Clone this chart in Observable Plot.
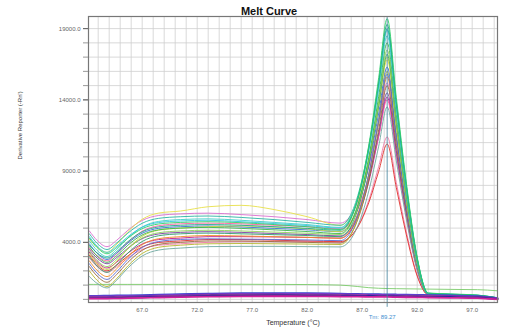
<!DOCTYPE html>
<html>
<head>
<meta charset="utf-8">
<script src="https://cdn.jsdelivr.net/npm/d3@7"></script>
<script src="https://cdn.jsdelivr.net/npm/@observablehq/plot@0.6"></script>
<style>
  body { margin: 0; background: #fff; font-family: "Liberation Sans", Arial, sans-serif; }
</style>
</head>
<body>
<div id="chart"></div>
<script>
// Temperature readings (°C) at which the derivative reporter was sampled
const temps = [62.2, 62.9, 63.8, 64.7, 65.7, 67.0, 68.5, 70.5, 73, 76, 79, 82, 85, 86.6, 87.6, 88.5, 89.27, 90.1, 91.0, 92.0, 93.0, 95.0, 97.5, 99.3];

// Amplified wells: -Rn' per temperature
const wellB7  = [2900, 2300, 1900, 2300, 2900, 3500, 3800, 3900, 4000, 4050, 4050, 4050, 4000, 5110, 6960, 9328, 11400, 8208, 4788, 1710, 330, 280, 220, 70];
const wellC3  = [3100, 2440, 2000, 2420, 3050, 3680, 3995, 4100, 4200, 4200, 4150, 4100, 4050, 5078, 6790, 8982, 10900, 7848, 4578, 1635, 320, 270, 210, 70];
const wellA5  = [3300, 2640, 2200, 2620, 3250, 3880, 4195, 4300, 4400, 4400, 4380, 4350, 4300, 5785, 8260, 11428, 14200, 10224, 5964, 2130, 360, 300, 240, 80];
const wellD2  = [3600, 3060, 2700, 3220, 4000, 4780, 5170, 5300, 5350, 5300, 5200, 5100, 4950, 6308, 8570, 11466, 14000, 10080, 5880, 2100, 350, 300, 240, 80];
const wellE6  = [4800, 4140, 3700, 4160, 4850, 5540, 5885, 6000, 6050, 5950, 5800, 5600, 5350, 6828, 9290, 12442, 15200, 10944, 6384, 2280, 380, 320, 250, 90];
const wellF1  = [3500, 2900, 2500, 2940, 3600, 4260, 4590, 4700, 4750, 4700, 4620, 4550, 4450, 5958, 8470, 11686, 14500, 10440, 6090, 2175, 360, 300, 240, 80];
const wellG4  = [2700, 2040, 1600, 2160, 3000, 3840, 4260, 4400, 4480, 4450, 4400, 4350, 4280, 5978, 8808, 12430, 15600, 11232, 6552, 2340, 370, 310, 250, 80];
const wellH8  = [2300, 1640, 1200, 1760, 2600, 3440, 3860, 4000, 4100, 4100, 4050, 4000, 3950, 5608, 8370, 11906, 15000, 10800, 6300, 2250, 360, 300, 240, 80];
const wellB2  = [2000, 1340, 900, 1480, 2350, 3220, 3655, 3800, 3900, 3920, 3900, 3880, 3850, 5673, 8710, 12598, 16000, 11520, 6720, 2400, 370, 310, 250, 80];
const wellC9  = [1600, 1120, 800, 1360, 2200, 3040, 3460, 3600, 3700, 3720, 3720, 3700, 3680, 5153, 7608, 10750, 13500, 9720, 5670, 2025, 340, 290, 230, 70];
const wellD5  = [2500, 1840, 1400, 1960, 2800, 3640, 4060, 4200, 4250, 4230, 4200, 4170, 4120, 5872, 8792, 12530, 15800, 11376, 6636, 2370, 370, 310, 250, 80];
const wellE3  = [3900, 3240, 2800, 3260, 3950, 4640, 4985, 5100, 5150, 5080, 4980, 4880, 4750, 6483, 9370, 13066, 16300, 11736, 6846, 2445, 380, 320, 250, 90];
const wellF7  = [4200, 3660, 3300, 3880, 4750, 5620, 6055, 6200, 6500, 6600, 6300, 5800, 5200, 6940, 9840, 13552, 16800, 12100, 7056, 2520, 400, 330, 260, 100];
const wellG2  = [3200, 2540, 2100, 2680, 3550, 4420, 4855, 5000, 5100, 5150, 5080, 4950, 4750, 6588, 9650, 13570, 17000, 12240, 7140, 2550, 380, 320, 260, 90];
const wellH5  = [3000, 2340, 1900, 2440, 3250, 4060, 4465, 4600, 4650, 4600, 4540, 4480, 4400, 6320, 9520, 13616, 17200, 12384, 7224, 2580, 380, 320, 250, 90];
const wellA9  = [3400, 2740, 2300, 2800, 3550, 4300, 4675, 4800, 4850, 4800, 4720, 4640, 4550, 6493, 9730, 13874, 17500, 12600, 7350, 2625, 390, 330, 260, 90];
const wellB4  = [3700, 3040, 2600, 3080, 3800, 4520, 4880, 5000, 5050, 4980, 4880, 4760, 4620, 6627, 9972, 14254, 18000, 12960, 7560, 2700, 380, 330, 260, 90];
const wellC6  = [4100, 3440, 3000, 3520, 4300, 5080, 5470, 5600, 5650, 5550, 5400, 5250, 5050, 7068, 10430, 14734, 18500, 13320, 7770, 2775, 400, 340, 270, 100];
const wellD8  = [4400, 3740, 3300, 3740, 4400, 5060, 5390, 5500, 5550, 5450, 5320, 5180, 5000, 7085, 10560, 15008, 18900, 13608, 7938, 2835, 420, 350, 280, 100];
const wellE1  = [4600, 3940, 3500, 3960, 4650, 5340, 5685, 5800, 5850, 5750, 5600, 5400, 5200, 7270, 10720, 15140, 19000, 13680, 7980, 2850, 420, 360, 290, 110];
const wellF9  = [3800, 3260, 2900, 3360, 4050, 4740, 5085, 5200, 5250, 5200, 5100, 4980, 4850, 7018, 10630, 15254, 19300, 13896, 8106, 2895, 430, 360, 290, 100];
const wellG7  = [4300, 3640, 3200, 3640, 4300, 4960, 5290, 5400, 5450, 5380, 5250, 5100, 4900, 7120, 10820, 15560, 19700, 14180, 8270, 2960, 450, 380, 300, 120];

// No-template controls
const ntcH10 = [1050, 1050, 1050, 1050, 1050, 1050, 1050, 1060, 1060, 1060, 1050, 1040, 1000, 900, 820, 780, 760, 750, 740, 730, 720, 700, 680, 600];
const ntcH11 = [250, 250, 260, 270, 280, 300, 330, 360, 400, 430, 440, 430, 400, 380, 370, 360, 350, 340, 330, 320, 300, 270, 220, 80];
const ntcH12 = [200, 200, 210, 220, 230, 250, 280, 310, 350, 380, 390, 380, 350, 330, 320, 310, 300, 290, 280, 270, 260, 240, 190, 60];
const ntcG10 = [150, 150, 160, 170, 180, 200, 230, 260, 300, 330, 340, 330, 300, 280, 270, 260, 260, 250, 240, 230, 220, 200, 160, 40];
const ntcG11 = [120, 120, 120, 130, 140, 160, 190, 220, 260, 290, 300, 290, 270, 260, 250, 240, 240, 230, 220, 210, 200, 180, 120, 10];
const ntcG12 = [100, 100, 110, 120, 130, 150, 180, 210, 250, 280, 290, 280, 260, 250, 240, 230, 230, 220, 210, 200, 190, 170, 130, 20];
const ntcF12 = [60, 60, 60, 70, 80, 100, 130, 160, 190, 210, 220, 210, 200, 190, 180, 170, 170, 160, 150, 140, 130, 110, 80, 0];

const sampleWells = [
  ["B7", wellB7], ["C3", wellC3], ["A5", wellA5], ["D2", wellD2], ["E6", wellE6], ["F1", wellF1],
  ["G4", wellG4], ["H8", wellH8], ["B2", wellB2], ["C9", wellC9], ["D5", wellD5], ["E3", wellE3],
  ["F7", wellF7], ["G2", wellG2], ["H5", wellH5], ["A9", wellA9], ["B4", wellB4], ["C6", wellC6],
  ["D8", wellD8], ["E1", wellE1], ["F9", wellF9], ["G7", wellG7]
];
const faintControls = [["H10", ntcH10]];
const controlWells = [
  ["H11", ntcH11], ["H12", ntcH12], ["G10", ntcG10],
  ["G11", ntcG11], ["G12", ntcG12], ["F12", ntcF12]
];

const sampleColors = [
  "#f07aa8", "#e0302a", "#c2188b", "#ff5fa0", "#d96fd0", "#7b3fa0",
  "#f08a24", "#9a6a3a", "#b5b52a", "#6fa8a0", "#5a6ad0", "#3b6fd4",
  "#e8e04a", "#c8d840", "#2e9e6a", "#8fd45a", "#3cb44b", "#3fd0c8",
  "#35c4e0", "#2ab5a5", "#1fa88a", "#2fcf6a"
];
const faintColors = ["#7acb6a"];
const controlColors = ["#3344cc", "#8a3ad0", "#5b2a9e", "#f06090", "#2a2a9a", "#d0209a"];

const xTicks = [67, 72, 77, 82, 87, 92, 97];
const yTicks = [4000, 9000, 14000, 19000];
const tm = 89.27;

const toRows = list => list.flatMap(([well, vals]) => vals.map((v, i) => ({well, t: temps[i], v})));
const sampleRows = toRows(sampleWells);
const faintRows = toRows(faintControls);
const controlRows = toRows(controlWells);

const chart = Plot.plot({
  width: 506,
  height: 336,
  marginLeft: 88,
  marginRight: 9,
  marginTop: 16,
  marginBottom: 34,
  style: {background: "#fff", fontFamily: "Liberation Sans, Arial, sans-serif", overflow: "visible"},
  x: {domain: [62.12, 99.3], label: null},
  y: {domain: [-220, 19850], label: null},
  color: {
    domain: [...sampleWells, ...faintControls, ...controlWells].map(d => d[0]),
    range: [...sampleColors, ...faintColors, ...controlColors]
  },
  marks: [
    Plot.gridX(d3.range(63, 100), {stroke: "#cfcfcf", strokeOpacity: 1, strokeWidth: 0.8}),
    Plot.gridY(d3.range(0, 20000, 1000), {stroke: "#cfcfcf", strokeOpacity: 1, strokeWidth: 0.8}),
    Plot.line(faintRows, {x: "t", y: "v", z: "well", stroke: "well", strokeWidth: 0.9, curve: "monotone-x"}),
    Plot.line(sampleRows, {x: "t", y: "v", z: "well", stroke: "well", strokeWidth: 0.9, curve: "monotone-x"}),
    Plot.line(controlRows, {x: "t", y: "v", z: "well", stroke: "well", strokeWidth: 1.8, curve: "monotone-x"}),
    Plot.ruleX([tm], {y1: 19850, y2: -560, stroke: "#3d7f99", strokeWidth: 0.8}),
    Plot.frame({stroke: "#777", strokeWidth: 1.2}),
    Plot.axisY(d3.range(0, 20000, 1000), {tickFormat: () => "", tickSize: 5, stroke: "#999", label: null}),
    Plot.axisY(yTicks, {tickFormat: d => d.toFixed(1), tickSize: 5, tickPadding: 3, fontSize: 6, color: "#666", label: null}),
    Plot.axisX(xTicks, {tickFormat: d => d.toFixed(1), tickSize: 0, tickPadding: 5, fontSize: 6, color: "#666", label: null}),
    Plot.text(["Melt Curve"], {frameAnchor: "top", dx: -24, dy: -9, fontSize: 11, fontWeight: 900, fill: "#111"}),
    Plot.text(["Derivative Reporter (-Rn')"], {frameAnchor: "left", dx: -68, rotate: -90, fontSize: 6, fill: "#333"}),
    Plot.text(["Temperature (°C)"], {frameAnchor: "bottom", dy: 22, fontSize: 7, fill: "#333"}),
    Plot.text([`Tm: ${tm}`], {x: tm, frameAnchor: "bottom", dx: -5, dy: 16, fontSize: 6, fill: "#3f8fd0"})
  ]
});

document.getElementById("chart").append(chart);
</script>
</body>
</html>
